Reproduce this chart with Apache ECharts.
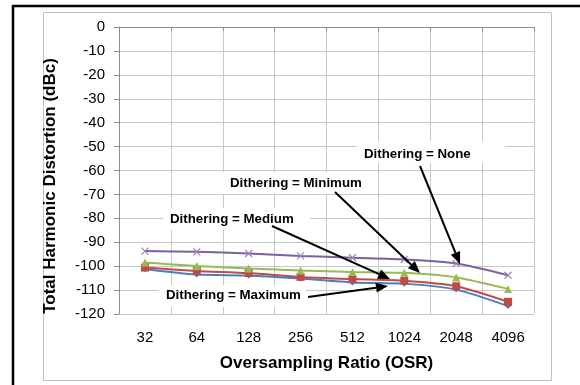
<!DOCTYPE html>
<html>
<head>
<meta charset="utf-8">
<script src="https://cdn.jsdelivr.net/npm/echarts@6/dist/echarts.min.js"></script>
<style>
  html, body { margin: 0; padding: 0; background: #fff; }
  #chart { width: 580px; height: 385px; }
</style>
</head>
<body>
<div id="chart"></div>
<script>
// Oversampling ratios on the category axis
const osrLabels = ['32', '64', '128', '256', '512', '1024', '2048', '4096'];

// THD (dBc) for each dithering setting
const ditherMaximum = [-101.3, -103.5, -103.9, -105.2, -106.8, -107.3, -109.8, -116.7];
const ditherMedium  = [-100.6, -102.0, -102.9, -104.5, -105.4, -106.1, -108.4, -114.9];
const ditherMinimum = [-98.5, -99.9, -101.0, -101.8, -102.4, -102.8, -104.7, -109.5];
const ditherNone    = [-93.7, -94.0, -94.7, -95.7, -96.5, -97.2, -98.9, -103.8];

const FONT = '"Liberation Sans", Arial, sans-serif';

const chart = echarts.init(document.getElementById('chart'), null, { renderer: 'canvas' });

function lineSeries(name, data, color, symbol, size, extra) {
  return Object.assign({
    name: name,
    type: 'line',
    data: data,
    smooth: 0.25,
    symbol: symbol,
    symbolSize: size,
    lineStyle: { color: color, width: 2 },
    itemStyle: { color: color },
    emphasis: { disabled: true },
    z: 3
  }, extra || {});
}

// Callout: white box, bold label, and a black arrow to its curve
function callout(text, tx, ty, box, x1, y1, x2, y2) {
  const ang = Math.atan2(y2 - y1, x2 - x1);
  const L = 12, W = 5;
  const bx = x2 - L * Math.cos(ang), by = y2 - L * Math.sin(ang);
  const px = -Math.sin(ang), py = Math.cos(ang);
  return [
    { type: 'rect', z: 100, shape: { x: box[0], y: box[1], width: box[2] - box[0], height: box[3] - box[1] },
      style: { fill: '#fff' } },
    { type: 'text', z: 101, x: tx, y: ty,
      style: { text: text, font: 'bold 13.3px ' + FONT, fill: '#000', textAlign: 'left', textVerticalAlign: 'middle' } },
    { type: 'line', z: 101, shape: { x1: x1, y1: y1, x2: bx, y2: by },
      style: { stroke: '#000', lineWidth: 2 } },
    { type: 'polygon', z: 101,
      shape: { points: [[x2, y2], [bx + W * px, by + W * py], [bx - W * px, by - W * py]] },
      style: { fill: '#000' } }
  ];
}

const option = {
  animation: false,
  backgroundColor: '#fff',
  grid: { left: 119, right: 46, top: 27, bottom: 71, containLabel: false },
  xAxis: {
    type: 'category',
    data: osrLabels,
    boundaryGap: true,
    axisLine: { show: true, lineStyle: { color: '#8c8c8c', width: 1 } },
    axisTick: { show: true, length: 4, alignWithLabel: false, lineStyle: { color: '#8c8c8c' } },
    axisLabel: { fontFamily: FONT, fontSize: 15, color: '#000', margin: 16 },
    splitLine: { show: true, lineStyle: { color: '#c8c8c8', width: 1 } }
  },
  yAxis: {
    type: 'value',
    min: -120,
    max: 0,
    interval: 10,
    axisLine: { show: true, lineStyle: { color: '#8c8c8c', width: 1 } },
    axisTick: { show: true, length: 5, lineStyle: { color: '#8c8c8c' } },
    axisLabel: { fontFamily: FONT, fontSize: 15, color: '#000', margin: 14 },
    splitLine: { show: true, lineStyle: { color: '#c8c8c8', width: 1 } }
  },
  series: [
    lineSeries('Dithering = Maximum', ditherMaximum, '#4a7ebb', 'diamond', 6),
    lineSeries('Dithering = Medium', ditherMedium, '#be4b48', 'rect', 8),
    lineSeries('Dithering = Minimum', ditherMinimum, '#98b954', 'triangle', 8),
    lineSeries('Dithering = None', ditherNone, '#7d60a0', 'path://M0,0L10,10M10,0L0,10', 7,
      { itemStyle: { color: 'none', borderColor: '#9a85b8', borderWidth: 1.2 } })
  ],
  graphic: [].concat(
    [
      // outer frame and chart-area border
      { type: 'rect', z: 0, shape: { x: 13, y: 6, width: 620, height: 420 },
        style: { fill: 'none', stroke: '#000', lineWidth: 2.5 } },
      { type: 'rect', z: 0, shape: { x: 43.5, y: 12.5, width: 508, height: 368 },
        style: { fill: 'none', stroke: '#c0c0c0', lineWidth: 1 } },
      // axis titles
      { type: 'text', z: 100, x: 326.5, y: 363,
        style: { text: 'Oversampling Ratio (OSR)', font: 'bold 17px ' + FONT, fill: '#000',
          textAlign: 'center', textVerticalAlign: 'middle' } },
      { type: 'text', z: 100, x: 50, y: 186, rotation: Math.PI / 2,
        style: { text: 'Total Harmonic Distortion (dBc)', font: 'bold 17px ' + FONT, fill: '#000',
          textAlign: 'center', textVerticalAlign: 'middle' } }
    ],
    callout('Dithering = None', 364, 154, [357, 141, 505, 163], 420, 166, 460, 264),
    callout('Dithering = Minimum', 230, 183, [222, 172, 370, 194], 335, 192, 420, 273),
    callout('Dithering = Medium', 170, 219, [163, 208, 310, 230], 272, 226, 390, 279),
    callout('Dithering = Maximum', 166, 295, [159, 285, 306, 307], 308, 297, 388, 286)
  )
};

chart.setOption(option);
</script>
</body>
</html>
